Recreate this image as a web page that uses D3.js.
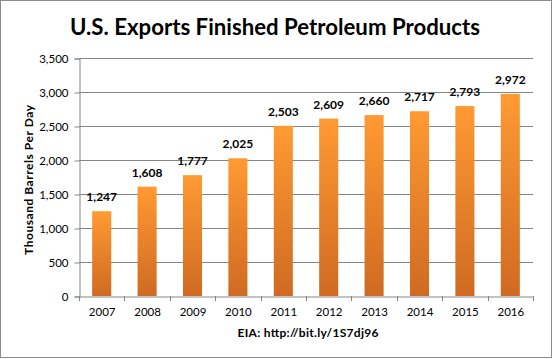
<!DOCTYPE html>
<html><head><meta charset="utf-8">
<script src="https://cdn.jsdelivr.net/npm/d3@7"></script>
<style>body{margin:0;background:#fff}svg{display:block}</style>
</head><body>
<script>
const years = ["2007","2008","2009","2010","2011","2012","2013","2014","2015","2016"];
const exportsVals = [1247,1608,1777,2025,2503,2609,2660,2717,2793,2972];
const yTicks = [0,500,1000,1500,2000,2500,3000,3500];
const titleText = "U.S. Exports Finished Petroleum Products";
const yTitle = "Thousand Barrels Per Day";
const sourceText = "EIA: http://bit.ly/1S7dj96";

const W = 552, H = 359;
const m = {l:79, r:19, t:58, b:63};
const svg = d3.select("body").append("svg").attr("width", W).attr("height", H);
const font = "Lato, 'Open Sans', sans-serif";

svg.append("rect").attr("x",0.5).attr("y",0.5).attr("width",W-1).attr("height",H-2)
  .attr("fill","#fff").attr("stroke","#8c8c8c");

const defs = svg.append("defs");
const g1 = defs.append("linearGradient").attr("id","bg").attr("x1",0).attr("y1",0).attr("x2",0).attr("y2",1);
g1.append("stop").attr("offset","0%").attr("stop-color","#ff9a33");
g1.append("stop").attr("offset","100%").attr("stop-color","#d06a22");

const x = d3.scaleBand().domain(years).range([m.l, W-m.r]).paddingInner(0.58).paddingOuter(0.29);
const y = d3.scaleLinear().domain([0,3500]).range([H-m.b, m.t]);

// gridlines
svg.append("g").selectAll("line").data(yTicks.filter(d=>d>0)).join("line")
  .attr("x1", m.l).attr("x2", W-m.r)
  .attr("y1", d=>Math.round(y(d))+0.5).attr("y2", d=>Math.round(y(d))+0.5)
  .attr("stroke","#868686").attr("stroke-width",1);

// y axis
const ya = svg.append("g").attr("transform",`translate(${m.l+0.5},0.5)`)
  .call(d3.axisLeft(y).tickValues(yTicks).tickFormat(d3.format(",")).tickSize(5).tickPadding(6));
ya.select(".domain").attr("stroke","#868686");
ya.selectAll(".tick line").attr("stroke","#868686");
ya.selectAll("text").attr("font-family",font).attr("font-size",11.5).attr("fill","#000");

// bars
svg.append("g").selectAll("rect").data(years).join("rect")
  .attr("x", d=>x(d)).attr("width", x.bandwidth())
  .attr("y", (d,i)=>y(exportsVals[i])).attr("height",(d,i)=>y(0)-y(exportsVals[i]))
  .attr("fill","url(#bg)");

// x axis
const xa = svg.append("g").attr("transform",`translate(0.5,${Math.round(y(0))+0.5})`)
  .call(d3.axisBottom(x).tickSize(0).tickPadding(11));
xa.select(".domain").attr("stroke","#868686");
xa.selectAll("text").attr("font-family",font).attr("font-size",11.5).attr("fill","#000");
// category boundary ticks
svg.append("g").selectAll("line").data(d3.range(years.length+1)).join("line")
  .attr("x1", i=>Math.round(m.l + i*(W-m.r-m.l)/years.length)+0.5)
  .attr("x2", i=>Math.round(m.l + i*(W-m.r-m.l)/years.length)+0.5)
  .attr("y1", Math.round(y(0))).attr("y2", Math.round(y(0))+5)
  .attr("stroke","#868686");

// data labels
svg.append("g").selectAll("text").data(years).join("text")
  .attr("x", d=>x(d)+x.bandwidth()/2).attr("y",(d,i)=>y(exportsVals[i])-10)
  .attr("text-anchor","middle").attr("font-family",font).attr("font-weight","bold")
  .attr("font-size",12).attr("fill","#000")
  .text((d,i)=>d3.format(",")(exportsVals[i]));

// title
svg.append("text").attr("x",275).attr("y",35).attr("text-anchor","middle")
  .attr("font-family",font).attr("font-weight","bold").attr("font-size",22).attr("fill","#000")
  .attr("textLength",410).attr("lengthAdjust","spacingAndGlyphs")
  .text(titleText);

// y title
svg.append("text").attr("transform","translate(33,180) rotate(-90)").attr("text-anchor","middle")
  .attr("font-family",font).attr("font-weight","bold").attr("font-size",12).attr("fill","#000")
  .attr("textLength",150).attr("lengthAdjust","spacing")
  .text(yTitle);

// source
svg.append("text").attr("x",308).attr("y",337).attr("text-anchor","middle")
  .attr("font-family",font).attr("font-weight","bold").attr("font-size",12).attr("fill","#000")
  .attr("textLength",141).attr("lengthAdjust","spacing")
  .text(sourceText);
</script>
</body></html>
